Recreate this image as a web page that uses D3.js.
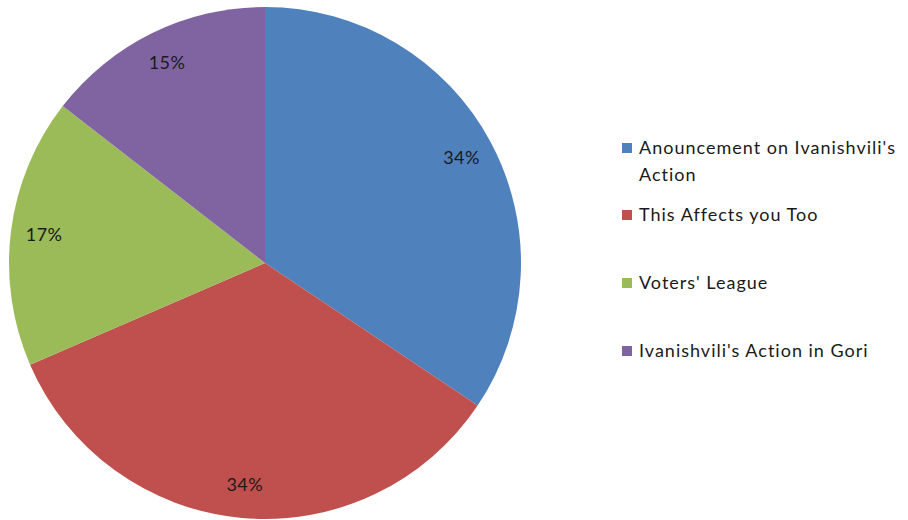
<!DOCTYPE html>
<style>body{margin:0;background:#fff}</style>
<svg width="908" height="520"></svg>
<script src="https://cdn.jsdelivr.net/npm/d3@7"></script>
<script>
  var categories = ["Anouncement on Ivanishvili's Action", "This Affects you Too", "Voters' League", "Ivanishvili's Action in Gori"];
  var values = [34.4, 34.1, 17.0, 14.5];
  var labels = ["34%", "34%", "17%", "15%"];
  var colors = ["#4F81BD", "#C0504D", "#9BBB59", "#8064A2"];

  var svg = d3.select("svg"),
      cx = 265, cy = 263, radius = 256;

  var g = svg.append("g").attr("transform", "translate(" + cx + "," + cy + ")");

  var pie = d3.pie().sort(null).value(function(d) { return d; });
  var arc = d3.arc().innerRadius(0).outerRadius(radius);
  var labelArc = d3.arc().innerRadius(radius * 0.87).outerRadius(radius * 0.87);

  var arcs = pie(values);

  g.selectAll("path")
      .data(arcs)
      .enter().append("path")
      .attr("fill", function(d, i) { return colors[i]; })
      .attr("d", arc);

  g.selectAll("text")
      .data(arcs)
      .enter().append("text")
      .attr("transform", function(d) { return "translate(" + labelArc.centroid(d) + ")"; })
      .attr("text-anchor", "middle")
      .attr("dy", "0.35em")
      .attr("font-family", "Lato, 'Open Sans', sans-serif")
      .attr("font-size", 18)
      .attr("letter-spacing", 0.4)
      .attr("fill", "#1a1a1a")
      .text(function(d, i) { return labels[i]; });

  // legend
  var legendRows = [148, 215, 283, 351];
  var legend = svg.append("g");
  categories.forEach(function(c, i) {
    var row = legend.append("g").attr("transform", "translate(622," + legendRows[i] + ")");
    row.append("rect")
        .attr("x", 0).attr("y", -5)
        .attr("width", 10).attr("height", 10)
        .attr("fill", colors[i]);
    var t = row.append("text")
        .attr("x", 17).attr("y", 0)
        .attr("dy", "0.35em")
        .attr("font-family", "Lato, 'Open Sans', sans-serif")
        .attr("font-size", 18)
        .attr("letter-spacing", 1.0)
        .attr("fill", "#1a1a1a");
    if (i === 0) {
      t.append("tspan").attr("x", 17).text("Anouncement on Ivanishvili's");
      t.append("tspan").attr("x", 17).attr("dy", 27).text("Action");
    } else {
      t.text(c);
    }
  });
</script>
